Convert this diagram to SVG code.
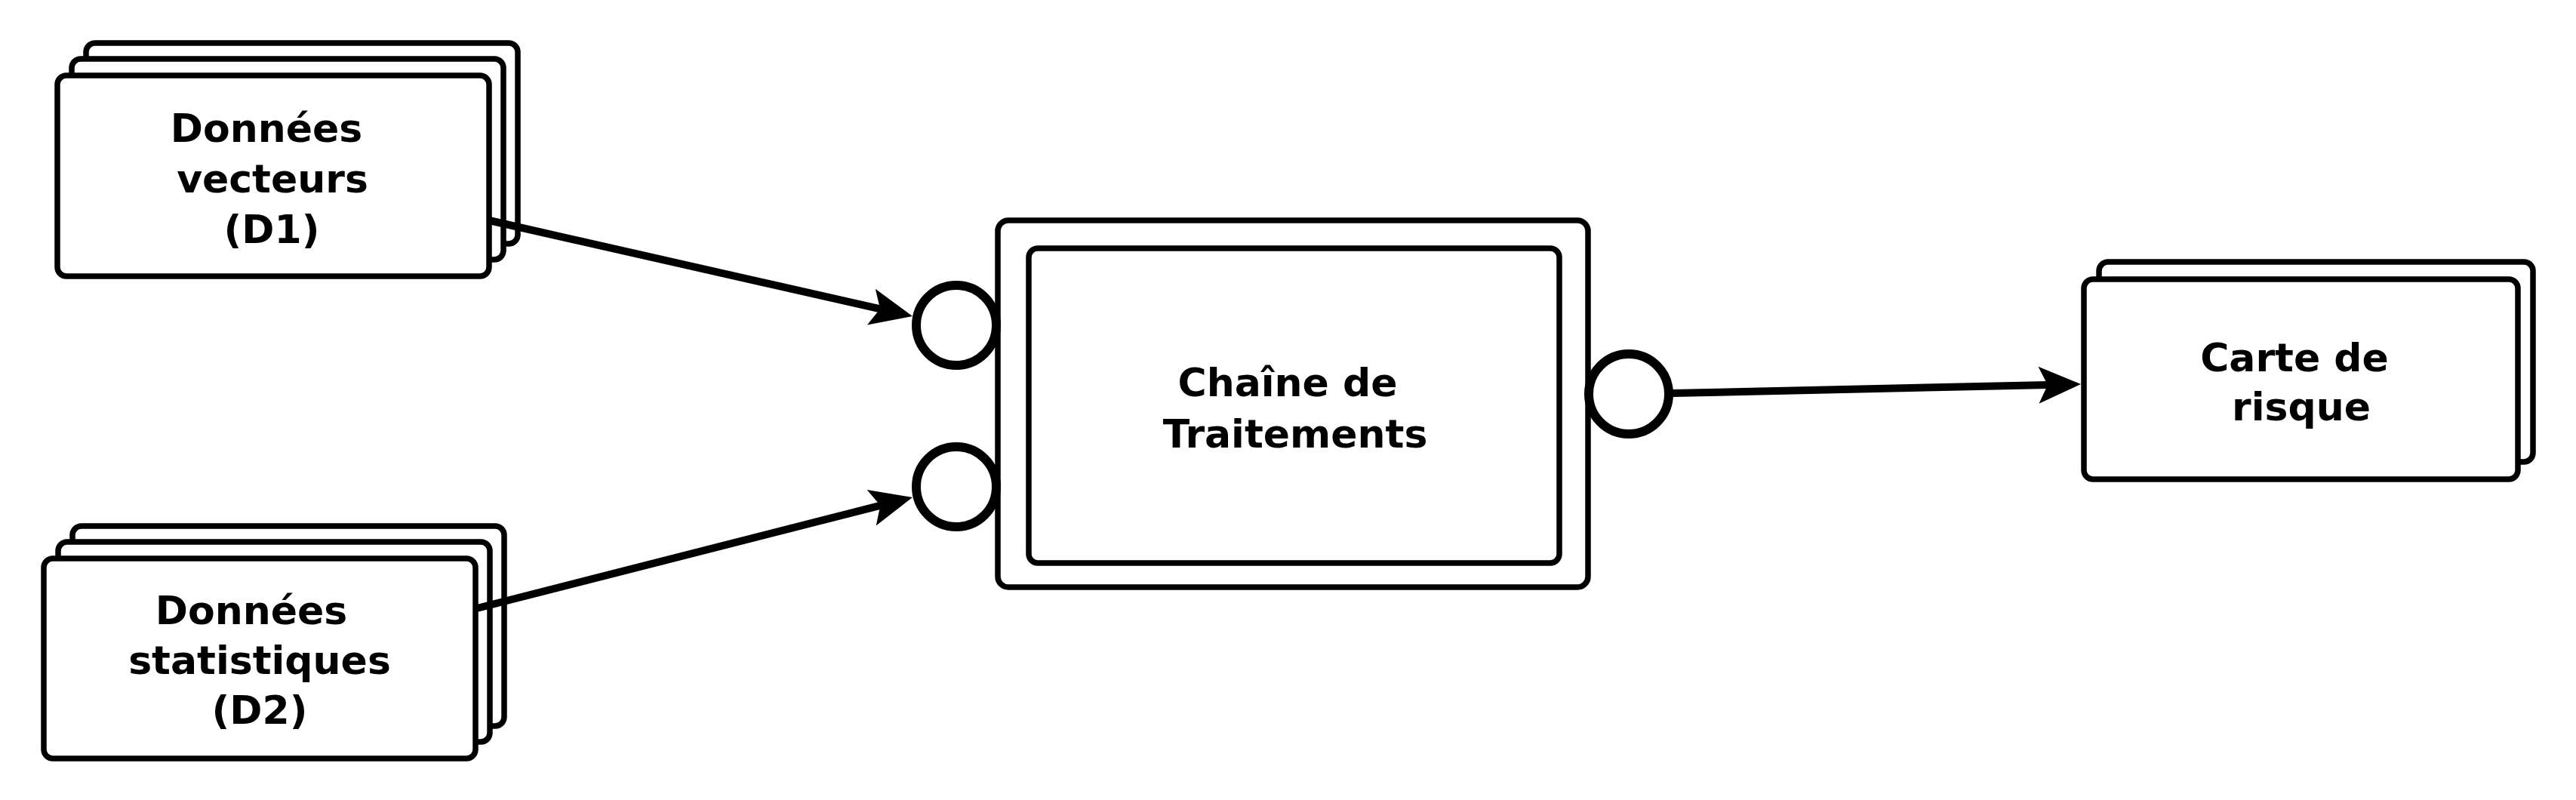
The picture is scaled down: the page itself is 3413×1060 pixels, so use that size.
<svg xmlns="http://www.w3.org/2000/svg" width="3413" height="1060" viewBox="0 0 3413 1060">
<defs>
<style>
.box{fill:#fff;stroke:#000;stroke-width:7.5}
.port{fill:#fff;stroke:#000;stroke-width:12}
.edge{fill:none;stroke:#000;stroke-width:10}
.lbl{font-family:"DejaVu Sans","Liberation Sans",sans-serif;font-weight:bold;font-size:52px;text-anchor:middle;fill:#000}
</style>
<marker id="arrow" viewBox="-60 -30 64 60" refX="-20" refY="0" markerWidth="64" markerHeight="60" markerUnits="userSpaceOnUse" orient="auto">
<path d="M0,0 L-56,-24.5 L-44,0 L-56,24.5 Z" fill="#000"/>
</marker>
</defs>
<rect width="3413" height="1060" fill="#fff"/>
<g id="d1">
<rect class="box" x="114" y="57" width="572" height="266" rx="12"/>
<rect class="box" x="95" y="78" width="572" height="266" rx="12"/>
<rect class="box" x="76" y="100" width="572" height="266" rx="12"/>
<text class="lbl" x="353" y="188">Données</text>
<text class="lbl" x="361" y="255">vecteurs</text>
<text class="lbl" x="360" y="322">(D1)</text>
</g>
<g id="d2">
<rect class="box" x="96" y="697" width="572" height="265" rx="12"/>
<rect class="box" x="77" y="718" width="572" height="265" rx="12"/>
<rect class="box" x="58" y="740" width="572" height="265" rx="12"/>
<text class="lbl" x="333" y="827">Données</text>
<text class="lbl" x="344" y="893">statistiques</text>
<text class="lbl" x="344" y="959">(D2)</text>
</g>
<g id="chaine">
<rect class="box" x="1322" y="292" width="782" height="486" rx="14"/>
<rect class="box" x="1363" y="329" width="703" height="417" rx="12"/>
<text class="lbl" x="1706" y="525">Chaîne de</text>
<text class="lbl" x="1716" y="593">Traitements</text>
<circle class="port" cx="1267" cy="431" r="53"/>
<circle class="port" cx="1267" cy="645" r="53"/>
<circle class="port" cx="2158" cy="522" r="53"/>
</g>
<g id="carte">
<rect class="box" x="2781" y="347" width="575" height="265" rx="12"/>
<rect class="box" x="2761" y="370" width="575" height="265" rx="12"/>
<text class="lbl" x="3040" y="492">Carte de</text>
<text class="lbl" x="3049" y="557">risque</text>
</g>
<g id="connectors">
<line class="edge" x1="648" y1="292" x2="1189.5" y2="414.6" marker-end="url(#arrow)"/>
<line class="edge" x1="632" y1="806" x2="1189.6" y2="663.9" marker-end="url(#arrow)"/>
<line class="edge" x1="2216" y1="521" x2="2737" y2="509.4" marker-end="url(#arrow)"/>
</g>
</svg>
